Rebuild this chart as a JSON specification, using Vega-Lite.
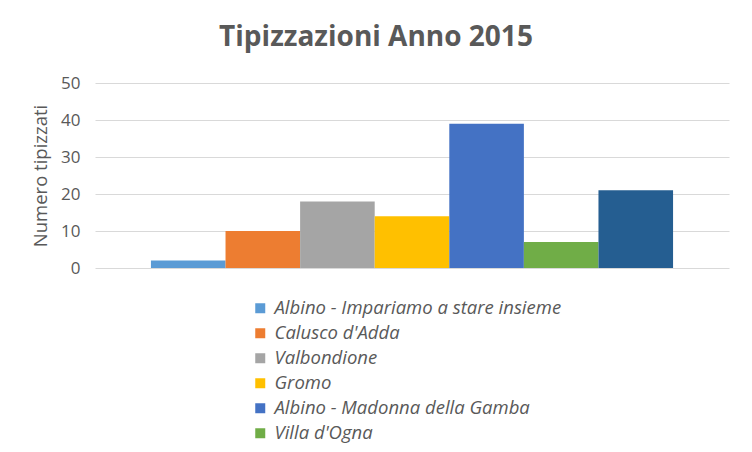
{
  "$schema": "https://vega.github.io/schema/vega-lite/v6.json",
  "autosize": "none",
  "width": 634,
  "height": 185,
  "padding": {"left": 95, "top": 83, "right": 23, "bottom": 184},
  "background": "white",
  "title": {
    "text": "Tipizzazioni Anno 2015",
    "font": "Open Sans",
    "fontSize": 28,
    "fontWeight": "bold",
    "color": "#595959",
    "anchor": "middle",
    "dx": -36,
    "offset": 22
  },
  "data": {
    "values": [
      {"serie": "Albino - Impariamo a stare insieme", "valore": 2},
      {"serie": "Calusco d'Adda", "valore": 10},
      {"serie": "Valbondione", "valore": 18},
      {"serie": "Gromo", "valore": 14},
      {"serie": "Albino - Madonna della Gamba", "valore": 39},
      {"serie": "Villa d'Ogna", "valore": 7},
      {"serie": "Altro", "valore": 21}
    ]
  },
  "mark": {"type": "bar"},
  "encoding": {
    "x": {
      "field": "serie",
      "type": "nominal",
      "sort": null,
      "axis": null,
      "scale": {"paddingInner": 0, "paddingOuter": 0.75}
    },
    "y": {
      "field": "valore",
      "type": "quantitative",
      "scale": {"domain": [0, 50]},
      "axis": {
        "title": "Numero tipizzati",
        "titleFont": "Open Sans",
        "titleFontSize": 18.5,
        "titleFontWeight": "normal",
        "titleColor": "#595959",
        "titlePadding": 10,
        "values": [0, 10, 20, 30, 40, 50],
        "labelFont": "Open Sans",
        "labelFontSize": 17,
        "labelColor": "#595959",
        "labelPadding": 15,
        "domain": false,
        "ticks": false,
        "grid": true,
        "gridColor": "#d9d9d9",
        "gridWidth": 1
      }
    },
    "color": {
      "field": "serie",
      "type": "nominal",
      "sort": null,
      "scale": {
        "domain": ["Albino - Impariamo a stare insieme", "Calusco d'Adda", "Valbondione", "Gromo", "Albino - Madonna della Gamba", "Villa d'Ogna", "Altro"],
        "range": ["#5B9BD5", "#ED7D31", "#A5A5A5", "#FFC000", "#4472C4", "#70AD47", "#255E91"]
      },
      "legend": {
        "title": null,
        "orient": "none",
        "legendX": 156,
        "legendY": 216,
        "values": ["Albino - Impariamo a stare insieme", "Calusco d'Adda", "Valbondione", "Gromo", "Albino - Madonna della Gamba", "Villa d'Ogna"],
        "symbolType": "square",
        "symbolSize": 100,
        "symbolStrokeWidth": 0,
        "labelFont": "Open Sans",
        "labelFontSize": 18.5,
        "labelFontStyle": "italic",
        "labelColor": "#595959",
        "labelLimit": 450,
        "rowPadding": 6,
        "labelOffset": 5
      }
    }
  },
  "config": {"view": {"stroke": null}}
}
